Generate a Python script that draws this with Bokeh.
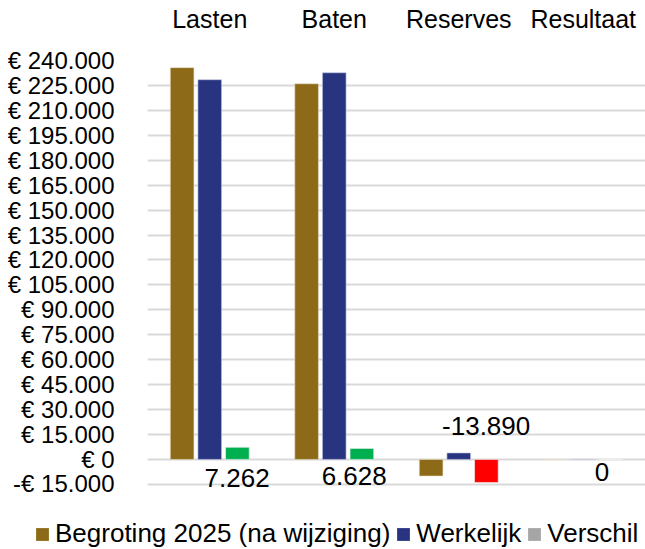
from bokeh.plotting import figure
from bokeh.models import (FactorRange, Range1d, FixedTicker, Legend, LegendItem,
                          ColumnDataSource)
from bokeh.layouts import column, row
from bokeh.transform import dodge
from bokeh.core.properties import value
from bokeh.embed import file_html
from bokeh.resources import INLINE

# ---- data ----
categories = ["Lasten", "Baten", "Reserves", "Resultaat"]
begroting = [235700, 226000, -10000, 0]
werkelijk = [228438, 232628, 3890, 0]
verschil = [7262, 6628, -13890, 0]
y_ticks = list(range(-15000, 240001, 15000))
legend_labels = ["Begroting 2025 (na wijziging)", "Werkelijk", "Verschil"]

FONT = "Liberation Sans"
BROWN = "#8C6A17"
NAVY = "#283480"
GREEN = "#00B050"
RED = "#FF0000"
GRAY = "#A5A5A5"


def euro(v):
    s = "€ " + f"{abs(v):,}".replace(",", ".")
    return ("-" + s) if v < 0 else s


def nl(v):
    s = f"{abs(v):,}".replace(",", ".")
    return ("-" + s) if v < 0 else s


p = figure(x_range=FactorRange(*categories, range_padding=0),
           y_range=Range1d(-17500, 240000),
           width=645, height=496, output_backend="svg", toolbar_location=None,
           x_axis_location="above",
           min_border_left=147, min_border_right=0, min_border_top=60,
           min_border_bottom=8)
p.outline_line_color = None
p.background_fill_color = "white"
p.border_fill_color = "white"

src = ColumnDataSource(dict(
    cat=categories, begroting=begroting, werkelijk=werkelijk, verschil=verschil,
    vcolor=[GREEN if v >= 0 else RED for v in verschil],
))

bw = 0.19
p.vbar(x=dodge("cat", -0.222, range=p.x_range), top="begroting", bottom=0,
       width=bw, source=src, fill_color=BROWN, line_color="#E8DFC8", line_width=0.6)
p.vbar(x=dodge("cat", 0.0, range=p.x_range), top="werkelijk", bottom=0,
       width=bw, source=src, fill_color=NAVY, line_color="#C8CBE0", line_width=0.6)
p.vbar(x=dodge("cat", 0.222, range=p.x_range), top="verschil", bottom=0,
       width=bw, source=src, fill_color="vcolor", line_color="#F0F0F0", line_width=0.6)

# data labels for Verschil
label_dx = [0.22, 0.16, 0.22, 0.15]
label_y = [-11400, -10100, 20400, -7800]
lab_src = ColumnDataSource(dict(
    x=[i + 0.5 + dx for i, dx in enumerate(label_dx)],
    y=label_y,
    t=[nl(v) for v in verschil],
))
p.text(x="x", y="y", text="t", source=lab_src, text_align="center",
       text_baseline="middle", text_font=value(FONT), text_font_size="26px",
       text_color="#000000")

# axes
p.yaxis.ticker = FixedTicker(ticks=y_ticks)
p.yaxis.major_label_overrides = {t: euro(t) for t in y_ticks}
p.yaxis.major_label_text_font = FONT
p.yaxis.major_label_text_font_size = "24px"
p.yaxis.major_label_text_color = "#000000"
p.yaxis.major_label_standoff = 27
p.yaxis.axis_line_color = None
p.yaxis.major_tick_line_color = None
p.yaxis.minor_tick_line_color = None

p.xaxis.major_label_text_font = FONT
p.xaxis.major_label_text_font_size = "25px"
p.xaxis.major_label_text_color = "#000000"
p.xaxis.major_label_standoff = 22
p.xaxis.axis_line_color = None
p.xaxis.major_tick_line_color = None

p.xgrid.grid_line_color = None
p.ygrid.grid_line_color = "#D9D9D9"
p.ygrid.grid_line_width = 2

# legend in a separate strip below the chart
lg = figure(width=645, height=53, output_backend="svg", toolbar_location=None,
            x_range=Range1d(0, 1), y_range=Range1d(0, 1),
            min_border_left=0, min_border_right=0, min_border_top=0,
            min_border_bottom=0)
lg.axis.visible = False
lg.grid.grid_line_color = None
lg.outline_line_color = None
items = []
for lab, col in zip(legend_labels, [BROWN, NAVY, GRAY]):
    r = lg.vbar(x=[0.5], top=[0], bottom=[0], width=0.0, fill_color=col,
                line_color=None)
    items.append(LegendItem(label=lab, renderers=[r]))
legend = Legend(items=items, orientation="horizontal", location=(34, 0), margin=0,
                label_text_font=FONT, label_text_font_size="26px",
                label_text_color="#000000",
                glyph_width=16, glyph_height=16, label_standoff=5, spacing=5,
                padding=0, border_line_color=None, background_fill_alpha=0)
lg.add_layout(legend, "center")

layout = column(p, row(lg, spacing=0), spacing=0)
open("out.html", "w").write(file_html(layout, INLINE))
